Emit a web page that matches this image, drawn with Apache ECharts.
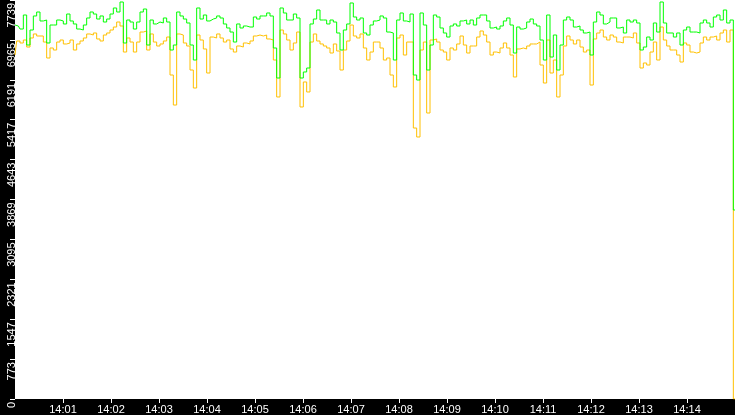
<!DOCTYPE html>
<html>
<head>
<meta charset="utf-8">
<script src="https://cdn.jsdelivr.net/npm/echarts@6/dist/echarts.min.js"></script>
<style>
    html, body { margin: 0; padding: 0; background: #000; }
    #chart { width: 735px; height: 415px; }
</style>
</head>
<body>
<div id="chart"></div>
<script>
// 取樣資料 (14:00:00 - 14:15:00)
const green = [
    7254, 7235, 7176, 7448, 6866, 7157, 7429, 7506, 7332, 7351,
    6905, 7254, 7254, 7351, 7332, 7274, 7467, 7332, 7274, 7176,
    7157, 7254, 7390, 7506, 7467, 7370, 7429, 7312, 7370, 7467,
    7584, 7506, 7700, 6905, 7351, 7312, 7176, 7312, 7506, 7564,
    6866, 7351, 7274, 7312, 7293, 7390, 7312, 6769, 6866, 7506,
    7429, 7370, 7293, 6866, 6575, 7584, 7370, 7448, 7332, 7370,
    7390, 7429, 7390, 7274, 7196, 7118, 6924, 7274, 7196, 7235,
    7215, 7215, 7409, 7370, 7429, 7429, 7487, 7429, 6808, 6226,
    7584, 7487, 7351, 7351, 7467, 7390, 6226, 6343, 6420, 7274,
    7370, 7545, 7351, 7351, 7274, 7351, 7312, 7099, 6769, 7157,
    7274, 7681, 7409, 7351, 7390, 7099, 7060, 7254, 7332, 7351,
    7429, 7390, 7118, 7099, 6575, 7351, 7487, 7332, 7312, 7467,
    6284, 6187, 7487, 7254, 6381, 6866, 7448, 7409, 7196, 7099,
    7021, 7235, 7274, 7235, 7332, 7351, 7274, 7351, 7254, 7390,
    7448, 7448, 7332, 7196, 7215, 7176, 7235, 7332, 7390, 7254,
    6711, 7215, 7176, 7196, 7312, 7370, 7274, 7235, 6963, 6575,
    7448, 6633, 7060, 6381, 6866, 7351, 7409, 7351, 7215, 7235,
    7157, 7099, 7118, 6672, 7312, 7506, 7448, 7274, 7312, 7390,
    7390, 7196, 7215, 7099, 7351, 7312, 7351, 7293, 6769, 6827,
    7021, 6963, 7293, 7118, 7700, 7293, 7099, 7099, 7021, 7099,
    6866, 7157, 7215, 7118, 7118, 7099, 7293, 7351, 7293, 7215,
    7409, 7448, 7351, 7545, 7293, 7351, 3666
]

const orange = [
    6672, 6944, 6905, 6963, 6827, 7002, 7080, 7041, 7041, 6924,
    6614, 6808, 6769, 6924, 6963, 6886, 6905, 6963, 6769, 6886,
    6944, 7002, 7080, 7060, 7099, 6983, 6944, 7060, 7099, 7157,
    7215, 7312, 7235, 6730, 7002, 6924, 6730, 6924, 7118, 7138,
    6769, 7080, 6924, 6847, 6886, 6944, 7021, 6284, 5702, 7080,
    7060, 6905, 6847, 6381, 6032, 7060, 6963, 6789, 6323, 7021,
    7002, 7080, 7002, 6924, 6963, 6789, 6730, 6847, 6827, 6905,
    6886, 6944, 7041, 7060, 7041, 7060, 6983, 6963, 6575, 5858,
    7157, 7080, 6963, 6769, 6905, 7118, 5664, 6149, 5955, 6924,
    7080, 6944, 6886, 6847, 6808, 6711, 6886, 6750, 6381, 6769,
    6944, 7254, 7041, 7002, 7080, 6808, 6575, 6730, 6924, 6924,
    6808, 6575, 6614, 6284, 6052, 7002, 7060, 6672, 6924, 6924,
    5256, 5082, 6769, 6924, 5547, 6963, 6983, 6924, 6769, 6730,
    6575, 6808, 6769, 6886, 7041, 6866, 6711, 6847, 6847, 7021,
    7138, 7060, 6924, 6672, 6730, 6711, 6808, 6905, 6808, 6672,
    6246, 6789, 6808, 6789, 6847, 6886, 6886, 6924, 6478, 6129,
    6963, 6323, 6575, 5858, 6284, 6847, 7041, 6963, 6886, 6963,
    6827, 6730, 6769, 6090, 6983, 7099, 7157, 7021, 6963, 7060,
    7021, 6924, 6905, 7021, 7021, 7002, 7099, 6905, 6420, 6517,
    6478, 6730, 6924, 6575, 7215, 6963, 6847, 6769, 6769, 6672,
    6536, 6905, 6866, 6730, 6711, 6730, 6905, 7021, 6963, 7021,
    7041, 6963, 7099, 7157, 6924, 7157, 0
]

// 座標軸刻度
const totalSeconds = 900
const xTickLabels = ['14:01', '14:02', '14:03', '14:04', '14:05', '14:06', '14:07',
    '14:08', '14:09', '14:10', '14:11', '14:12', '14:13', '14:14']
const xTickValues = xTickLabels.map((_, i) => (i + 1) * 60)
const yTickLabels = ['0', '773', '1547', '2321', '3095', '3869', '4643', '5417', '6191', '6965', '7739']
const yMax = 7739
const yStep = 773.9

const sec = i => i * totalSeconds / (green.length - 1)
const toPairs = arr => arr.map((v, i) => [sec(i), v])

const chart = echarts.init(document.getElementById('chart'))
chart.setOption({
    animation: false,
    backgroundColor: '#000',
    grid: {
        left: 15, right: 0, top: 0, bottom: 16,
        show: true,
        backgroundColor: '#fff',
        borderWidth: 0
    },
    xAxis: {
        type: 'value',
        min: 0,
        max: totalSeconds,
        axisLine: { show: false },
        splitLine: { show: false },
        axisTick: {
            customValues: xTickValues,
            length: 4,
            lineStyle: { color: '#fff', width: 1 }
        },
        axisLabel: {
            customValues: xTickValues,
            formatter: v => xTickLabels[Math.round(v / 60) - 1],
            color: '#fff',
            fontFamily: 'Liberation Sans',
            fontSize: 11,
            margin: 5
        }
    },
    yAxis: {
        type: 'value',
        min: 0,
        max: yMax,
        interval: yStep,
        axisLine: { show: false },
        splitLine: { show: false },
        axisTick: {
            length: 5,
            lineStyle: { color: '#fff', width: 1 }
        },
        axisLabel: {
            rotate: 90,
            align: 'right',
            verticalAlign: 'middle',
            padding: [0, 3, 0, 0],
            formatter: v => yTickLabels[Math.round(v / yStep)],
            color: '#fff',
            fontFamily: 'Liberation Sans',
            fontSize: 11,
            margin: 3
        }
    },
    series: [
        {
            name: 'orange',
            type: 'line',
            step: 'middle',
            showSymbol: false,
            data: toPairs(orange),
            lineStyle: { color: '#ffc000', width: 1 }
        },
        {
            name: 'green',
            type: 'line',
            step: 'middle',
            showSymbol: false,
            data: toPairs(green),
            lineStyle: { color: '#00ff00', width: 1 }
        }
    ]
})
</script>
</body>
</html>
